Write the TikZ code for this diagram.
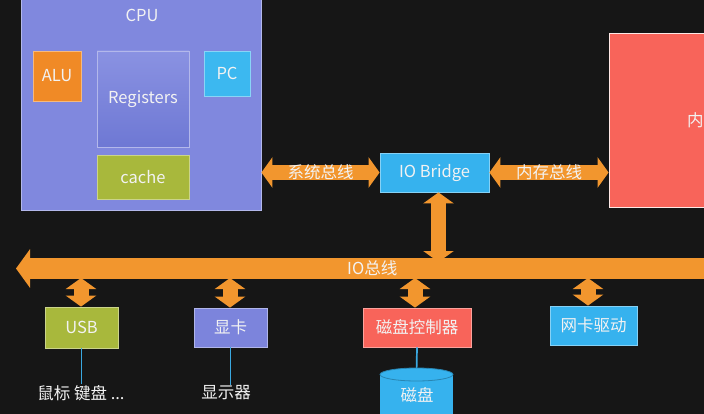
\documentclass[tikz,border=0pt]{standalone}
\usepackage{fontspec}
\setmainfont{Noto Sans CJK SC}
\usetikzlibrary{arrows.meta}
\definecolor{bg}{HTML}{161616}
\definecolor{cpuC}{HTML}{8088DE}
\definecolor{regTop}{HTML}{8A92E2}
\definecolor{regBot}{HTML}{6E78D4}
\definecolor{aluC}{HTML}{F08A26}
\definecolor{pcC}{HTML}{3CB8F0}
\definecolor{cacheC}{HTML}{A8B83C}
\definecolor{blueC}{HTML}{36B2EE}
\definecolor{redC}{HTML}{F8645A}
\definecolor{gpuC}{HTML}{7C84DC}
\definecolor{orgA}{HTML}{F2962E}
\definecolor{lineC}{HTML}{3AA8E0}
\definecolor{txt}{HTML}{F2F2F2}
\newcommand\myfs{\fontsize{16.5}{19}\selectfont}
\begin{document}
\begin{tikzpicture}[x=1pt,y=-1pt,
  box/.style={fill=#1, draw=#1!60!white, line width=0.8pt, text=txt, font=\myfs, inner sep=0pt},
  lbl/.style={text=txt, font=\myfs, inner sep=1pt},
  dbl/.style={draw=orgA, line width=15pt, {Triangle[length=11pt,width=30pt]}-{Triangle[length=11pt,width=30pt]}},
  iob/.style={draw=orgA, line width=21pt, -{Triangle[length=14pt,width=38pt]}},
  wire/.style={draw=lineC, line width=1.7pt}]
\useasboundingbox (0,0) rectangle (704,414);
\clip (0,0) rectangle (704,414);
\fill[bg] (0,0) rectangle (704,414);

% CPU
\node[box=cpuC, minimum width=240pt, minimum height=215pt] (cpu) at (141,102.5) {};
\node[lbl] (cpulbl) at (142,15) {CPU};
\node[box=aluC, minimum width=48pt, minimum height=50pt] (alu) at (57,76) {ALU};
\node[box=cpuC, top color=regTop, bottom color=regBot, minimum width=92pt, minimum height=96pt] (reg) at (143,99) {Registers};
\node[box=pcC, minimum width=46pt, minimum height=45pt] (pc) at (227,73.5) {PC};
\node[box=cacheC, minimum width=92pt, minimum height=44pt] (cache) at (143,177) {cache};

% memory
\node[box=redC, draw=white!85!redC, minimum width=120pt, minimum height=174pt] (mem) at (669,120) {};
\node[lbl, anchor=east, inner sep=0.3pt] (memlbl) at (704,120) {内};

% IO bridge
\node[box=blueC, minimum width=109pt, minimum height=39pt] (bridge) at (434.5,172.5) {IO Bridge};

\draw[dbl] (cpu.east |- bridge.west) -- node[lbl] (sysbus) {系统总线} (bridge.west);
\draw[dbl] (bridge.east) -- node[lbl] (membus) {内存总线} (mem.west |- bridge.east);

% IO bus
\coordinate (busL) at (16,268.5);
\coordinate (busR) at (720,268.5);
\draw[iob] (busR) -- node[lbl, pos=0.494] (iobuslbl) {IO总线} (busL);
\coordinate (bj) at (438.5,262);
\draw[dbl] (bj |- bridge.south) -- (bj);

% devices
\node[box=cacheC, minimum width=73pt, minimum height=41pt] (usb) at (81.5,327.5) {USB};
\node[box=gpuC, minimum width=73pt, minimum height=39pt] (gpu) at (230.5,327.5) {显卡};
\node[box=redC, minimum width=108pt, minimum height=39pt] (dctl) at (417,327.5) {磁盘控制器};
\node[box=blueC, minimum width=87pt, minimum height=39pt] (nic) at (593.5,325.5) {网卡驱动};

\coordinate (busB) at (0,278);
\draw[dbl] ([xshift=-0.5pt]usb.north |- busB) -- ([xshift=-0.5pt]usb.north);
\draw[dbl] ([xshift=-0.5pt]gpu.north |- busB) -- ([xshift=-0.5pt]gpu.north);
\draw[dbl] ([xshift=-2pt]dctl.north |- busB) -- ([xshift=-2pt]dctl.north);
\draw[dbl] ([xshift=-5.5pt]nic.north |- busB) -- ([xshift=-5.5pt]nic.north);

% labels below
\node[lbl] (kb) at (81,393) {鼠标 键盘 ...};
\node[lbl] (mon) at (226,393) {显示器};
\draw[wire] (usb.south) -- (usb.south |- kb.north);
\draw[wire] (gpu.south) -- (gpu.south |- mon.north);

% disk
\node[fill=blueC, minimum width=73pt, minimum height=44pt, inner sep=0pt, anchor=north] (disk) at (416.5,374.5) {};
\draw[wire] (dctl.south) -- (disk.north);
\draw[fill=blueC, draw=blueC!75!black, line width=0.8pt] (disk.north) ellipse (36.5pt and 6.5pt);
\node[lbl] (disklbl) at (417,395) {磁盘};
\end{tikzpicture}
\end{document}
